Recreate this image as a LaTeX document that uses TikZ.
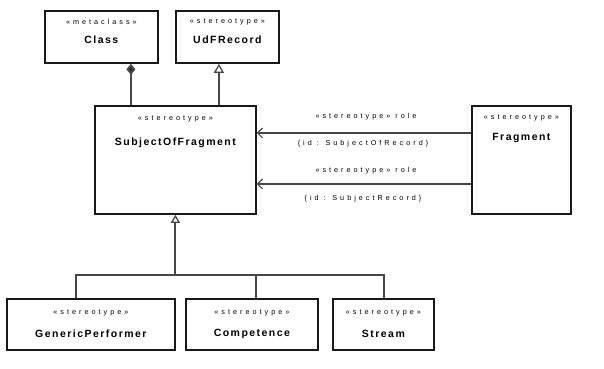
\documentclass[tikz,border=0pt]{standalone}
\usepackage{fontspec}
\setmainfont{Liberation Sans}
\newfontfamily\stfont[LetterSpace=42]{Liberation Sans}
\newfontfamily\nmfont[LetterSpace=14]{Liberation Sans}
\usetikzlibrary{arrows.meta}
\begin{document}
\begin{tikzpicture}[x=1pt,y=-1pt,
  box/.style={draw=black!90, line width=1.8pt, fill=white, inner sep=0pt, anchor=north west},
  stereo/.style={font=\stfont\fontsize{7.2}{8}\selectfont, inner sep=0pt},
  cname/.style={font=\nmfont\bfseries\fontsize{10.5}{12}\selectfont, inner sep=0pt},
  lab/.style={font=\stfont\fontsize{7.2}{8}\selectfont, inner sep=0pt},
  conn/.style={draw=black!72, line width=2pt},
  assoc/.style={draw=black!72, line width=1.6pt, -{Straight Barb[length=5pt,width=10pt,line width=1.1pt]}}]
\useasboundingbox[fill=white] (0,0) rectangle (604,368);

% top boxes
\node[box, minimum width=113, minimum height=52] (cls) at (44,10) {};
\node[stereo] (clsS) at ([yshift=-12pt]cls.north) {«metaclass»};
\node[cname] (clsN) at ([yshift=-30pt]cls.north) {Class};

\node[box, minimum width=103, minimum height=52] (udf) at (175,10) {};
\node[stereo] (udfS) at ([yshift=-12pt]udf.north) {«stereotype»};
\node[cname] (udfN) at ([yshift=-30pt]udf.north) {UdFRecord};

% subject box
\node[box, minimum width=161, minimum height=108] (subj) at (94,105) {};
\node[stereo] (subjS) at ([yshift=-14pt]subj.north) {«stereotype»};
\node[cname] (subjN) at ([yshift=-38pt]subj.north) {SubjectOfFragment};

% right box
\node[box, minimum width=99, minimum height=108] (fr) at (471,105) {};
\node[stereo] (frS) at ([yshift=-13pt]fr.north) {«stereotype»};
\node[cname] (frN) at ([yshift=-33pt]fr.north) {Fragment};

% bottom boxes
\node[box, minimum width=168, minimum height=51] (gp) at (6,298) {};
\node[stereo] (gpS) at ([yshift=-15pt]gp.north) {«stereotype»};
\node[cname] (gpN) at ([yshift=-36pt]gp.north) {GenericPerformer};

\node[box, minimum width=132, minimum height=51] (cmp) at (185,298) {};
\node[stereo] (cmpS) at ([yshift=-15pt]cmp.north) {«stereotype»};
\node[cname] (cmpN) at ([yshift=-36pt]cmp.north) {Competence};

\node[box, minimum width=101, minimum height=51] (strm) at (332,298) {};
\node[stereo] (strmS) at ([yshift=-15pt]strm.north) {«stereotype»};
\node[cname] (strmN) at ([yshift=-36pt]strm.north) {Stream};

% top connectors
\coordinate (c1) at ([xshift=29.5pt]cls.south);
\draw[conn, {Diamond[fill=black!85,length=11pt,width=9pt]}-] (c1) -- (c1 |- subj.north);
\coordinate (c2) at ([xshift=-8.5pt]udf.south);
\draw[conn, {Triangle[open,fill=white,length=9pt,width=10pt,line width=1.3pt]}-] (c2) -- (c2 |- subj.north);

% associations
\coordinate (a1) at ([yshift=27pt]fr.west);
\coordinate (a2) at ([yshift=-24pt]fr.west);
\draw[assoc] (a1) -- (a1 -| subj.east);
\draw[assoc] (a2) -- (a2 -| subj.east);
\node[lab] (l1) at (366,117) {«stereotype» role};
\node[lab] (l2) at (363,144) {\{id : SubjectOfRecord\}};
\node[lab] (l3) at (366,171) {«stereotype» role};
\node[lab] (l4) at (363,199) {\{id : SubjectRecord\}};

% generalisation tree
\coordinate (bus) at (subj.south |- 0,275);
\draw[conn, -{Triangle[open,fill=white,length=8pt,width=9pt,line width=1.3pt]}] (bus) -- (subj.south);
\draw[conn] ([xshift=-15pt]gp.north) |- ([xshift=1pt]strm.north |- bus) -- ([xshift=1pt]strm.north);
\draw[conn] ([xshift=4pt]cmp.north) -- ([xshift=4pt]cmp.north |- bus);
\end{tikzpicture}
\end{document}
